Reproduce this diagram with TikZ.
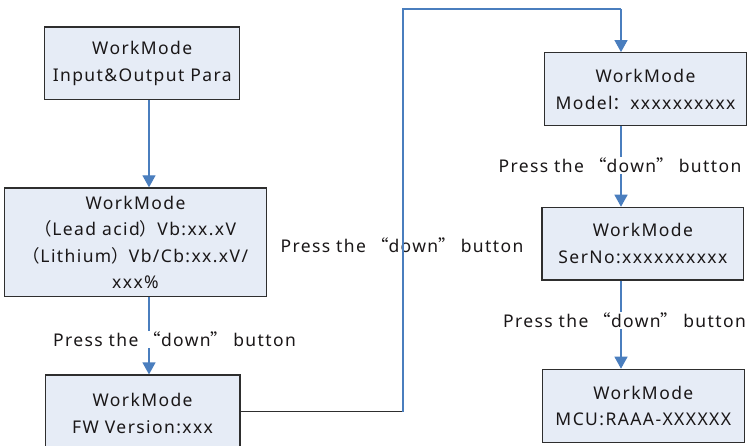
\documentclass[tikz,border=0pt]{standalone}
\usepackage{fontspec}
\setmainfont{Noto Sans}[LetterSpace=8]
\newfontfamily\cjk{Noto Sans CJK SC}
\usetikzlibrary{arrows.meta}
\definecolor{boxfill}{HTML}{E6ECF6}
\definecolor{boxline}{HTML}{2E2E2E}
\definecolor{arr}{HTML}{4A7EBE}
\definecolor{txt}{HTML}{1A1718}
\newcommand{\myLq}{\hspace{5pt}{\cjk “}}
\newcommand{\myRq}{{\cjk ”}\hspace{5pt}}
\newcommand{\presslbl}{Press the\myLq down\myRq button}
\begin{document}
\begin{tikzpicture}[x=1pt,y=-1pt,
  font=\fontsize{17.5}{26.5}\selectfont, text=txt,
  box/.style={draw=boxline, fill=boxfill, line width=1.2pt, align=center, inner sep=0pt},
  arrowline/.style={draw=arr, line width=1.3pt, -{Triangle[width=13pt,length=12pt]}},
  plainline/.style={draw=arr, line width=1.3pt},
  lbl/.style={inner sep=1pt, anchor=base},
  lblw/.style={lbl, fill=white}]
\clip (0,0) rectangle (748,446);
\fill[white] (0,0) rectangle (748,446);

% boxes
\node[box, minimum width=195pt, minimum height=72.7pt] (b1) at (142.2,63.3) {WorkMode\\Input\&Output Para};
\node[box, minimum width=261.6pt, minimum height=108.7pt] (b2) at (135.5,242.3)
  {WorkMode\\{\cjk （}Lead acid{\cjk ）}Vb:xx.xV\\{\cjk （}Lithium{\cjk ）}Vb/Cb:xx.xV/\\xxx\%};
\node[box, minimum width=194.7pt, minimum height=77pt] (b3) at (142.6,413.5) {WorkMode\\FW Version:xxx};
\node[box, minimum width=202.4pt, minimum height=73pt] (b4) at (645.5,89.2) {WorkMode\\Model{\cjk ：}xxxxxxxxxx};
\node[box, minimum width=201.7pt, minimum height=72.7pt] (b5) at (642.9,243.7) {WorkMode\\SerNo:xxxxxxxxxx};
\node[box, minimum width=202pt, minimum height=73.4pt] (b6) at (643.3,406) {WorkMode\\MCU:RAAA-XXXXXX};

% coordinates
\coordinate (cl) at (149,0);
\coordinate (cr) at (621,0);
\coordinate (k1) at (403,411.7);
\coordinate (k2) at (403,9);
\coordinate (k3) at (621,9);

% left column
\draw[arrowline] (b1.south -| cl) -- (b2.north -| cl);
\draw[arrowline] (b2.south -| cl) -- (b3.north -| cl);
\node[lblw] (l1) at (174.5,347) {\presslbl};

% middle connector
\node[lbl] (l2) at (402,253) {\presslbl};
\draw[draw=boxline, line width=1.3pt] (b3.east |- k1) -- (k1);
\draw[plainline] (k1) -- (k2) -- (k3);
\draw[arrowline] (k3) -- (b4.north -| k3);

% right column
\draw[arrowline] (b4.south -| cr) -- (b5.north -| cr);
\node[lblw] (l3) at (620,173) {\presslbl};
\draw[arrowline] (b5.south -| cr) -- (b6.north -| cr);
\node[lblw] (l4) at (624.5,328) {\presslbl};
\end{tikzpicture}
\end{document}
